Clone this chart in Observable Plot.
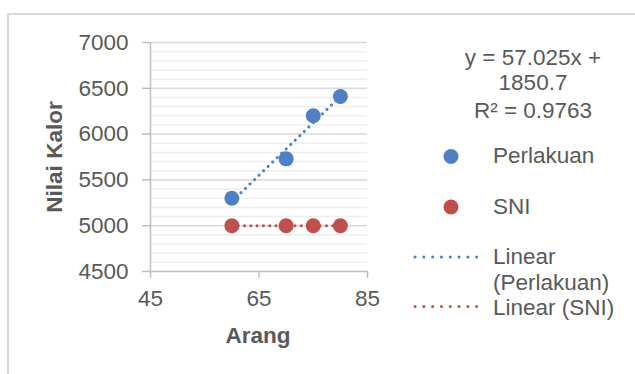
<!DOCTYPE html>
<html>
<head>
<meta charset="utf-8">
<script src="https://cdn.jsdelivr.net/npm/d3@7"></script>
<script src="https://cdn.jsdelivr.net/npm/@observablehq/plot@0.6"></script>
<style>
  html, body { margin: 0; padding: 0; background: #fff; }
  #wrap { position: relative; width: 635px; height: 374px; overflow: hidden; background: #fff;
          font-family: "Liberation Sans", Arial, sans-serif; color: #595959; }
  #frame { position: absolute; left: 7px; top: 13px; width: 700px; height: 450px;
           border-left: 2px solid #d9d9d9; border-top: 2px solid #d9d9d9; pointer-events: none; }
  .lbl { position: absolute; font-size: 22.5px; line-height: 1; white-space: nowrap; }
  #chart { position: absolute; left: 0; top: 0; }
</style>
</head>
<body>
<div id="wrap">
  <div id="chart"></div>
  <div id="frame"></div>
</div>
<script>
// ---- data ----
const arang = [60, 70, 75, 80];
const perlakuan = [5300, 5730, 6200, 6410];
const sni = [5000, 5000, 5000, 5000];
const xTicks = [45, 65, 85];
const yTicks = [4500, 5000, 5500, 6000, 6500, 7000];
const yMinorTicks = [4600, 4700, 4800, 4900, 5100, 5200, 5300, 5400, 5600, 5700, 5800, 5900,
                     6100, 6200, 6300, 6400, 6600, 6700, 6800, 6900];
const seriesNames = ["Perlakuan", "SNI"];
const trendNames = ["Linear", "(Perlakuan)", "Linear (SNI)"];
const equationLines = ["y = 57.025x +", "1850.7", "R\u00B2 = 0.9763"];
const xTitle = "Arang";
const yTitle = "Nilai Kalor";

const blue = "#4f81c2";
const red = "#c0504d";
const axisColor = "#bfbfbf";
const textColor = "#595959";

const perlData = arang.map((x, i) => ({x, y: perlakuan[i]}));
const sniData = arang.map((x, i) => ({x, y: sni[i]}));

const dotted = {strokeWidth: 3, strokeDasharray: "0.1 6.2", strokeLinecap: "round"};

const plot = Plot.plot({
  width: 635,
  height: 374,
  marginLeft: 150,
  marginRight: 268,
  marginTop: 42,
  marginBottom: 103,
  style: {background: "transparent", fontFamily: "'Liberation Sans', Arial, sans-serif", fontSize: "22.5px", color: textColor},
  x: {domain: [45, 85]},
  y: {domain: [4500, 7000]},
  marks: [
    Plot.ruleY(yMinorTicks, {stroke: "#eeeeee", strokeWidth: 1.5}),
    Plot.ruleY(yTicks.slice(1), {stroke: "#d9d9d9", strokeWidth: 1.5}),
    Plot.ruleX([45], {stroke: axisColor, strokeWidth: 1.5}),
    Plot.ruleY([4500], {stroke: axisColor, strokeWidth: 1.5}),
    Plot.axisY({ticks: yTicks, tickFormat: d => String(d), tickSize: 8, tickPadding: 14,
                stroke: axisColor, fill: textColor, label: null, fontSize: 22.5, strokeWidth: 1.5}),
    Plot.axisX({ticks: xTicks, tickFormat: d => String(d), tickSize: 7, tickPadding: 12,
                stroke: axisColor, fill: textColor, label: null, fontSize: 22.5, strokeWidth: 1.5}),
    Plot.dot(perlData, {x: "x", y: "y", r: 7.5, fill: blue}),
    Plot.dot(sniData, {x: "x", y: "y", r: 7.5, fill: red}),
    Plot.linearRegressionY(perlData, {x: "x", y: "y", stroke: blue, ci: 0, ...dotted}),
    Plot.linearRegressionY(sniData, {x: "x", y: "y", stroke: red, ci: 0, ...dotted})
  ]
});
document.getElementById("chart").appendChild(plot);

// ---- text labels & legend (HTML) ----
const wrap = document.getElementById("wrap");
function label(text, x, y, anchor = "middle", extra = {}) {
  const d = document.createElement("div");
  d.className = "lbl";
  d.textContent = text;
  d.style.left = x + "px";
  d.style.top = y + "px";
  const tx = anchor === "middle" ? "-50%" : anchor === "end" ? "-100%" : "0";
  d.style.transform = `translate(${tx}, -50%)` + (extra.rotate ? ` rotate(${extra.rotate}deg)` : "");
  if (extra.bold) d.style.fontWeight = "bold";
  wrap.appendChild(d);
  return d;
}
label(xTitle, 258, 336, "middle", {bold: true});
label(yTitle, 55, 157, "middle", {bold: true, rotate: -90});

// trendline equation
const eqY = [57.5, 83.3, 110.5];
equationLines.forEach((t, i) => label(t, 533, eqY[i], "middle"));

// legend
const NS = "http://www.w3.org/2000/svg";
const lg = document.createElementNS(NS, "svg");
lg.setAttribute("width", 635); lg.setAttribute("height", 374);
lg.style.position = "absolute"; lg.style.left = "0"; lg.style.top = "0";
function el(tag, attrs) { const e = document.createElementNS(NS, tag); for (const k in attrs) e.setAttribute(k, attrs[k]); lg.appendChild(e); return e; }
el("circle", {cx: 451, cy: 156.5, r: 7.5, fill: blue});
el("circle", {cx: 451, cy: 207, r: 7.5, fill: red});
el("line", {x1: 415, x2: 485, y1: 257, y2: 257, stroke: blue, "stroke-width": 3, "stroke-dasharray": "0.1 8.7", "stroke-linecap": "round"});
el("line", {x1: 415, x2: 485, y1: 306.5, y2: 306.5, stroke: red, "stroke-width": 3, "stroke-dasharray": "0.1 8.7", "stroke-linecap": "round"});
wrap.insertBefore(lg, document.getElementById("frame"));

label(seriesNames[0], 493, 156, "start");
label(seriesNames[1], 493, 206.5, "start");
label(trendNames[0], 493, 257, "start");
label(trendNames[1], 493, 283, "start");
label(trendNames[2], 493, 307.5, "start");
</script>
</body>
</html>
